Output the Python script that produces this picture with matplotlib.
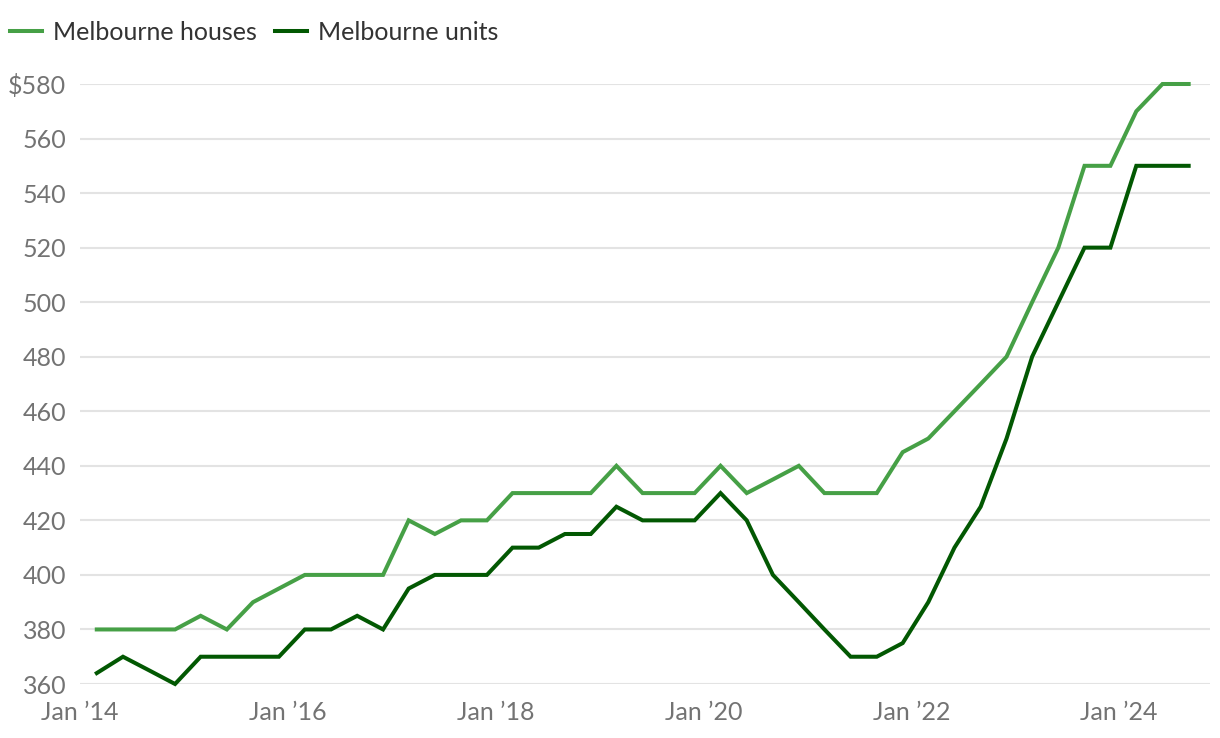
import matplotlib.pyplot as plt
import matplotlib.dates as mdates
import pandas as pd

# quarterly points, Mar 2014 .. Sep 2024
dates = pd.date_range("2014-03-01", periods=43, freq="3MS")

houses = [380, 380, 380, 380, 385, 380, 390, 395, 400, 400, 400, 400,
          420, 415, 420, 420, 430, 430, 430, 430, 440, 430, 430, 430,
          440, 430, 435, 440, 430, 430, 430, 445, 450, 460, 470, 480,
          500, 520, 550, 550, 570, 580, 580]
units = [364, 370, 365, 360, 370, 370, 370, 370, 380, 380, 385, 380,
         395, 400, 400, 400, 410, 410, 415, 415, 425, 420, 420, 420,
         430, 420, 400, 390, 380, 370, 370, 375, 390, 410, 425, 450,
         480, 500, 520, 520, 550, 550, 550]

yticks = [360, 380, 400, 420, 440, 460, 480, 500, 520, 540, 560, 580]
ytick_labels = ["360", "380", "400", "420", "440", "460", "480", "500",
                "520", "540", "560", "$580"]
xtick_years = [2014, 2016, 2018, 2020, 2022, 2024]

plt.rcParams["font.family"] = ["Lato", "DejaVu Sans"]

fig = plt.figure(figsize=(12.2, 7.38), dpi=100)
ax = fig.add_axes([80 / 1220, 1 - 684 / 738, 1130 / 1220, 600 / 738])

ax.plot(dates, houses, color="#46a046", lw=2.9, clip_on=False,
        solid_joinstyle="miter", label="Melbourne houses", zorder=3)
ax.plot(dates, units, color="#025802", lw=2.9, clip_on=False,
        solid_joinstyle="miter", label="Melbourne units", zorder=3)

ax.set_ylim(360, 580)
ax.set_xlim(pd.Timestamp("2014-01-01"), pd.Timestamp("2024-11-15"))

ax.set_yticks(yticks)
ax.set_yticklabels(ytick_labels)
xt = [pd.Timestamp(f"{y}-01-01") for y in xtick_years]
ax.set_xticks(xt)
ax.set_xticklabels([f"Jan \u2019{str(y)[2:]}" for y in xtick_years])

ax.grid(axis="y", color="#e3e3e3", lw=1.5)
ax.set_axisbelow(True)
for s in ax.spines.values():
    s.set_visible(False)
ax.tick_params(axis="both", length=0, colors="#737373", labelsize=18)
ax.tick_params(axis="y", pad=10)
ax.tick_params(axis="x", pad=12)

fig.legend(loc="upper left", bbox_to_anchor=(2 / 1220, 1 - 13 / 738),
           ncol=2, frameon=False, fontsize=18, handlelength=1.3,
           handletextpad=0.45, columnspacing=0.7, labelcolor="#333333",
           borderaxespad=0, borderpad=0.3)

fig.savefig("out.png", dpi=100)
